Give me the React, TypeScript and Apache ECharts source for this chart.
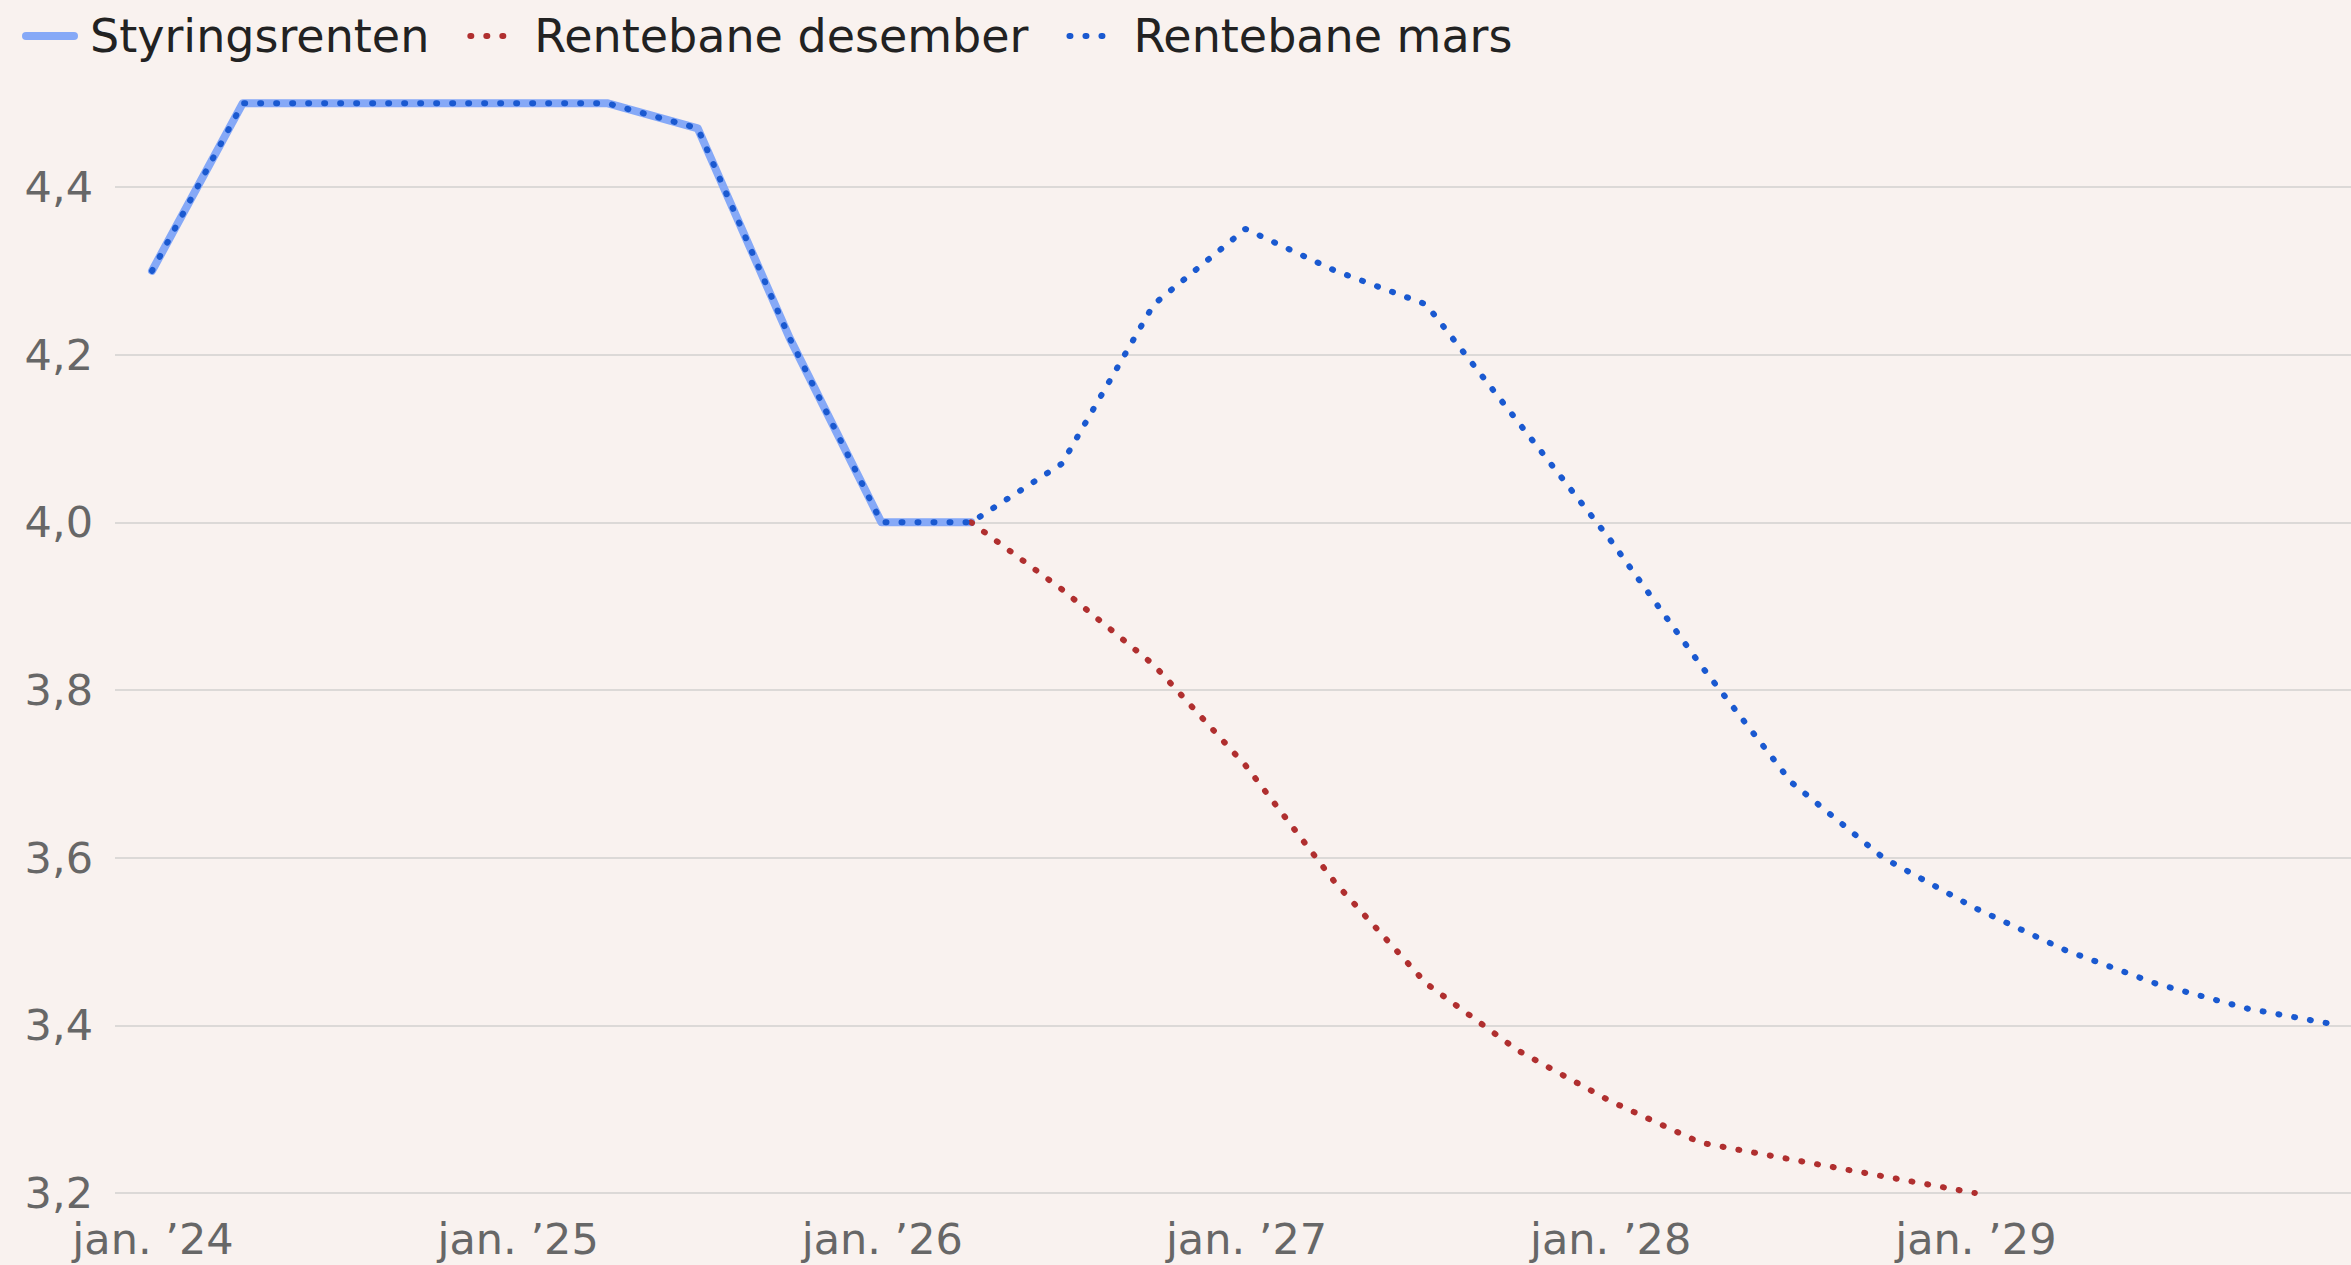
import React, { useEffect, useRef } from "react";
import * as echarts from "echarts";

// Quarter-end dates (Q4 2023 .. Q4 2029)
const quarterEnds = [
  "2023-12-31", "2024-03-31", "2024-06-30", "2024-09-30",
  "2024-12-31", "2025-03-31", "2025-06-30", "2025-09-30",
  "2025-12-31", "2026-03-31", "2026-06-30", "2026-09-30",
  "2026-12-31", "2027-03-31", "2027-06-30", "2027-09-30",
  "2027-12-31", "2028-03-31", "2028-06-30", "2028-09-30",
  "2028-12-31", "2029-03-31", "2029-06-30", "2029-09-30",
  "2029-12-31",
];

// Styringsrenten: Q4 2023 .. Q1 2026
const styringsrenten = [4.3, 4.5, 4.5, 4.5, 4.5, 4.5, 4.47, 4.22, 4.0, 4.0];

// Rentebane desember: Q1 2026 .. Q4 2028
const desemberStart = 9;
const rentebaneDesember = [4.0, 3.92, 3.83, 3.71, 3.57, 3.45, 3.37, 3.31, 3.26, 3.24, 3.22, 3.2];

// Rentebane mars: Q4 2023 .. Q4 2029
const rentebaneMars = [
  4.3, 4.5, 4.5, 4.5, 4.5, 4.5, 4.47, 4.22, 4.0, 4.0,
  4.07, 4.26, 4.35, 4.3, 4.26, 4.12, 3.98, 3.83, 3.69, 3.6,
  3.54, 3.49, 3.45, 3.42, 3.4,
];

const xTickDates = ["2024-01-01", "2025-01-01", "2026-01-01", "2027-01-01", "2028-01-01", "2029-01-01"];
const xTickLabels = ["jan. \u201924", "jan. \u201925", "jan. \u201926", "jan. \u201927", "jan. \u201928", "jan. \u201929"];

const seriesNames = ["Styringsrenten", "Rentebane desember", "Rentebane mars"];

const DAY = 86400000;
const ts = (d: string) => Date.parse(d + "T00:00:00Z");

export default function App() {
  const ref = useRef<HTMLDivElement | null>(null);

  useEffect(() => {
    document.body.style.margin = "0";
    if (!ref.current) return;
    const chart = echarts.init(ref.current, undefined, { renderer: "svg" });

    const styrData = styringsrenten.map((v, i) => [ts(quarterEnds[i]), v]);
    const desData = rentebaneDesember.map((v, i) => [ts(quarterEnds[i + desemberStart]), v]);
    const marsData = rentebaneMars.map((v, i) => [ts(quarterEnds[i]), v]);
    const tickVals = xTickDates.map(ts);

    const font = "DejaVu Sans";

    chart.setOption({
      animation: false,
      backgroundColor: "#f9f2ef",
      legend: {
        show: true,
        left: 22,
        top: 13,
        itemWidth: 48,
        itemHeight: 14,
        itemGap: 38,
        padding: 0,
        data: seriesNames,
        lineStyle: { width: "inherit" },
        itemStyle: { opacity: 0 },
        textStyle: {
          fontFamily: font,
          fontSize: 46,
          color: "#222222",
          padding: [0, 0, 0, 11],
        },
      },
      grid: { left: 115, right: 0, top: 187, bottom: 72, containLabel: false },
      xAxis: {
        type: "value",
        min: ts("2024-01-01") - 38.1 * DAY,
        max: ts("2030-01-12"),
        splitLine: { show: false },
        axisLine: { show: false },
        axisTick: { show: false },
        axisLabel: {
          customValues: tickVals,
          margin: 24,
          fontFamily: font,
          fontSize: 43,
          color: "#676767",
          formatter: (v: number) => {
            const i = tickVals.indexOf(v);
            return i >= 0 ? xTickLabels[i] : "";
          },
        },
      },
      yAxis: {
        type: "value",
        min: 3.2,
        max: 4.4,
        interval: 0.2,
        axisLine: { show: false },
        axisTick: { show: false },
        splitLine: { lineStyle: { color: "#dcd9d7", width: 2 } },
        axisLabel: {
          margin: 22,
          fontFamily: font,
          fontSize: 43,
          color: "#676767",
          formatter: (v: number) => v.toFixed(1).replace(".", ","),
        },
      },
      series: [
        {
          name: seriesNames[0],
          type: "line",
          data: styrData,
          symbol: "none",
          clip: false,
          z: 2,
          color: "#86a9f7",
          lineStyle: { color: "#86a9f7", width: 8, cap: "round", join: "round" },
        },
        {
          name: seriesNames[1],
          type: "line",
          data: desData,
          symbol: "none",
          clip: false,
          z: 3,
          color: "#b02f2f",
          lineStyle: { color: "#b02f2f", width: 6, type: [1, 15], cap: "round", join: "round" },
        },
        {
          name: seriesNames[2],
          type: "line",
          data: marsData,
          symbol: "none",
          clip: false,
          z: 4,
          color: "#1a59d0",
          lineStyle: { color: "#1a59d0", width: 6, type: [1, 15], cap: "round", join: "round" },
        },
      ],
    });

    return () => chart.dispose();
  }, []);

  return <div ref={ref} style={{ width: 2351, height: 1265 }} />;
}
